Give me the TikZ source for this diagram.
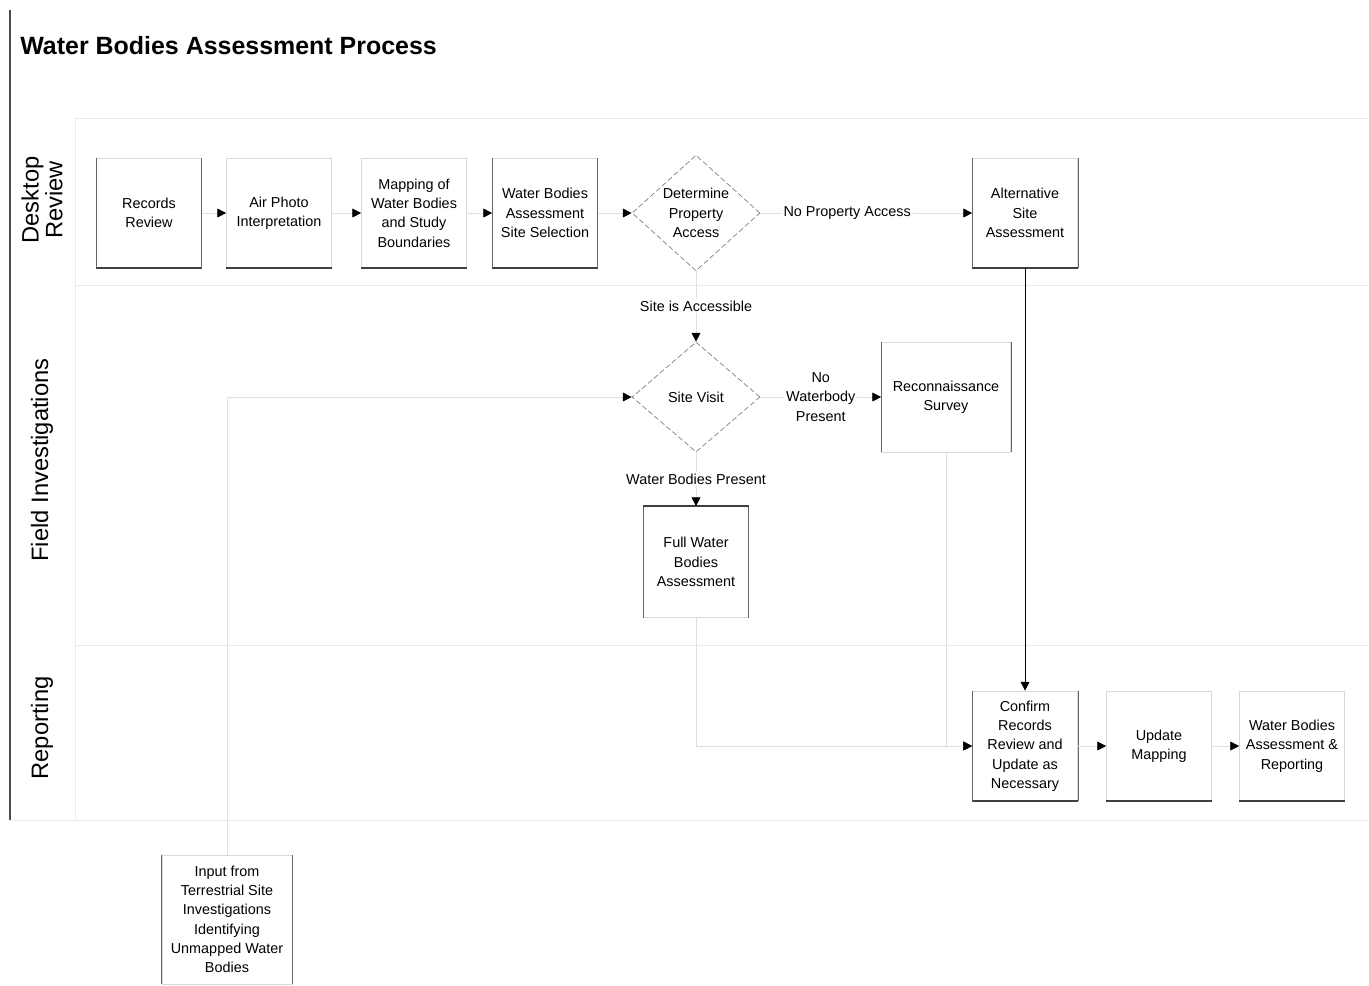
\documentclass[tikz,border=0pt]{standalone}
\usepackage{fontspec}
\setmainfont{Liberation Sans}
\usetikzlibrary{shapes.geometric,arrows.meta}
\begin{document}
\begin{tikzpicture}[x=0.02cm,y=-0.02cm]
        \tikzstyle{proc} = [rectangle, minimum width=2.1cm, minimum height=2.2cm, inner sep=1pt, text centered, align=center, draw=black!15, font=\fontsize{8.2}{11}\selectfont]
        \tikzstyle{dec} = [diamond, minimum width=2.56cm, minimum height=2.2cm, inner sep=0pt, align=center, draw=black!50, dash pattern=on 3pt off 1.5pt, font=\fontsize{8.2}{11}\selectfont]
        \tikzstyle{lbl} = [fill=white, text=black, inner sep=1pt, align=center, font=\fontsize{8.2}{11}\selectfont]
        \tikzstyle{lanelbl} = [rotate=90, align=center, font=\fontsize{13.5}{12.5}\selectfont]
        \tikzstyle{lane} = [black!8]
        \tikzstyle{arrow} = [black!12, -{Triangle[length=5pt,width=5pt,color=black]}]
        \useasboundingbox (0,0) rectangle (1369,985);
        % frame and lanes
        \draw[black!70, line width=0.8pt] (10,10) -- (10,820);
        \draw[lane] (75,118) -- (75,820);
        \draw[lane] (75,118) -- (1369,118);
        \draw[lane] (75,285) -- (1369,285);
        \draw[lane] (75,645) -- (1369,645);
        \draw[lane] (10,820) -- (1369,820);
        \node (ttl) [anchor=west, inner sep=0pt, font=\fontsize{14.2}{16}\selectfont\bfseries] at (20,46) {Water Bodies Assessment Process};
        \node (ldr) [lanelbl] at (42,200) {Desktop\\Review};
        \node (lfi) [lanelbl] at (42,460) {Field Investigations};
        \node (lrp) [lanelbl] at (42,728) {Reporting};
        % desktop review
        \node (rr) [proc] at (149,213) {Records\\Review};
        \node (api) [proc] at (279,213) {Air Photo\\Interpretation};
        \node (map) [proc] at (414,213) {Mapping of\\Water Bodies\\and Study\\Boundaries};
        \node (sel) [proc] at (545,213) {Water Bodies\\Assessment\\Site Selection};
        \node (dpa) [dec] at (696,213) {Determine\\Property\\Access};
        \node (alt) [proc] at (1025,213) {Alternative\\Site\\Assessment};
        % field investigations
        \node (sv) [dec] at (696,397) {Site Visit};
        \node (rs) [proc, minimum width=2.58cm] at (946,397) {Reconnaissance\\Survey};
        \node (fwa) [proc, minimum height=2.22cm] at (696,562) {Full Water\\Bodies\\Assessment};
        \node (inp) [proc, minimum width=2.6cm, minimum height=2.58cm] at (227,919.5) {Input from\\Terrestrial Site\\Investigations\\Identifying\\Unmapped Water\\Bodies};
        % reporting
        \node (conf) [proc] at (1025,746) {Confirm\\Records\\Review and\\Update as\\Necessary};
        \node (upd) [proc] at (1159,746) {Update\\Mapping};
        \node (rep) [proc] at (1292,746) {Water Bodies\\Assessment \&\\Reporting};
        % box edges
        \foreach \n in {rr,api,map,sel,alt,conf,upd,rep}
            \draw[black!75, line width=1.2pt] (\n.south west) -- (\n.south east);
        \foreach \n in {rr,sel,alt,conf,rs,fwa,inp} {
            \draw[black!60] (\n.north west) -- (\n.south west);
            \draw[black!60] (\n.north east) -- (\n.south east);
        }
        \draw[black!75, line width=1.2pt] (fwa.north west) -- (fwa.north east);
        % connectors
        \draw[arrow] (rr) to (api);
        \draw[arrow] (api) to (map);
        \draw[arrow] (map) to (sel);
        \draw[arrow] (sel) to (dpa);
        \draw[arrow] (dpa) -- node[lbl, pos=0.41] {No Property Access} (alt);
        \draw[arrow] (dpa) -- node[lbl] {Site is Accessible} (sv);
        \draw[arrow] (sv) -- node[lbl] {No\\Waterbody\\Present} (rs);
        \draw[arrow] (sv) -- node[lbl] {Water Bodies Present} (fwa);
        \draw[arrow] (inp.north) |- (sv.west);
        \draw[arrow, black] (alt) -- (conf);
        \draw[arrow] (fwa.south) |- (conf.west);
        \draw[arrow] (rs.south) |- (conf.west);
        \draw[arrow] (conf) to (upd);
        \draw[arrow] (upd) to (rep);
\end{tikzpicture}
\end{document}
